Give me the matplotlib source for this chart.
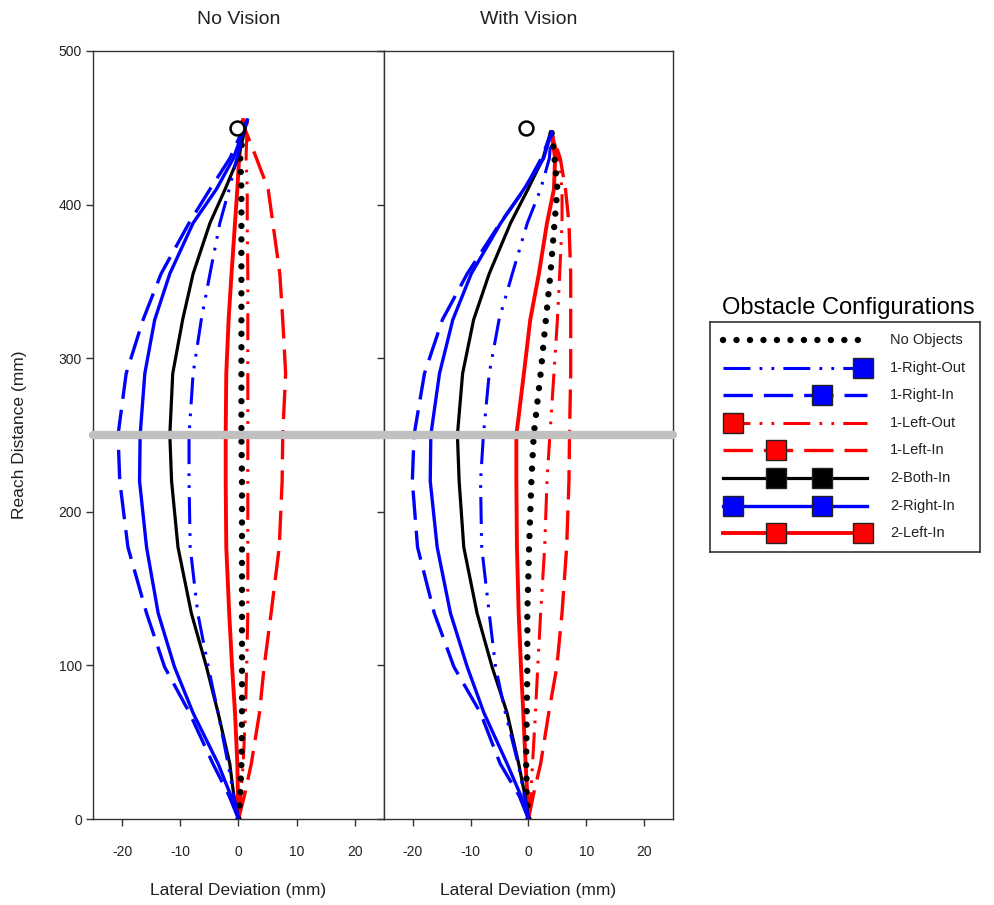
import numpy as np
import matplotlib.pyplot as plt

plt.rcParams['font.family'] = ['Liberation Sans', 'DejaVu Sans']
plt.rcParams['axes.unicode_minus'] = False

# reach distance levels (mm) at which lateral deviation was read
reach_nv = [0, 15, 36, 69, 99, 134, 177, 220, 250, 290, 325, 355, 388, 410, 430, 455]
reach_wv = [0, 15, 36, 69, 99, 134, 177, 220, 250, 290, 325, 355, 388, 410, 430, 447]

# lateral deviation (mm), No Vision
nv_no_objects = [0, 0.3, 0.5, 0.6, 0.6, 0.6, 0.6, 0.6, 0.5, 0.5, 0.5, 0.5, 0.5, 0.5, 0.3, 1.0]
nv_right_out = [0, -0.8, -1.8, -3.5, -5.2, -7.0, -8.3, -8.5, -8.5, -7.8, -6.4, -4.9, -3.2, -1.6, -0.3, 1.5]
nv_right_in = [0, -1.6, -4.4, -8.4, -12.7, -15.8, -19.0, -20.4, -20.7, -19.3, -16.4, -13.3, -8.5, -4.9, -1.5, 1.5]
nv_left_out = [0, 0.4, 0.8, 1.2, 1.4, 1.6, 1.6, 1.6, 1.6, 1.6, 1.6, 1.6, 1.5, 1.5, 1.3, 1.5]
nv_left_in = [0, 1.0, 2.2, 3.6, 4.4, 5.6, 7.0, 7.5, 7.6, 8.1, 7.6, 7.1, 5.9, 5.1, 3.1, 0.5]
nv_both_in = [0, -0.8, -1.5, -3.5, -5.5, -8.1, -10.4, -11.5, -11.8, -11.3, -9.6, -7.8, -4.9, -2.3, -0.1, 1.5]
nv_2right_in = [0, -1.3, -3.5, -7.8, -11.0, -13.8, -15.8, -17.0, -16.9, -16.1, -14.4, -11.8, -7.8, -3.8, -0.9, 1.5]
nv_2left_in = [0, -0.1, -0.2, -0.6, -1.1, -1.6, -2.1, -2.2, -2.2, -2.1, -1.7, -1.2, -0.6, -0.2, 0.1, 0.8]

# lateral deviation (mm), With Vision
wv_no_objects = [0, -0.3, -0.4, -0.3, -0.2, -0.2, 0.1, 0.5, 0.9, 2.1, 3.0, 3.8, 4.5, 5.0, 4.5, 4.0]
wv_right_out = [0, -0.7, -1.8, -4.0, -5.7, -6.8, -8.1, -8.3, -7.8, -6.8, -5.1, -2.8, -0.2, 2.1, 3.6, 4.0]
wv_right_in = [0, -1.6, -4.9, -8.3, -12.9, -16.3, -19.2, -20.1, -19.8, -18.0, -14.9, -10.6, -4.9, -0.7, 2.2, 4.0]
wv_left_out = [0, 0.4, 0.7, 1.2, 1.6, 2.1, 2.8, 3.2, 3.7, 4.4, 5.0, 5.4, 5.8, 5.8, 5.2, 4.0]
wv_left_in = [0, 0.8, 2.1, 3.5, 4.9, 5.8, 6.6, 7.0, 7.1, 7.3, 7.3, 7.3, 7.0, 6.4, 5.5, 4.0]
wv_both_in = [0, -0.6, -1.7, -3.7, -6.3, -8.9, -11.2, -12.0, -12.3, -11.4, -9.5, -6.8, -3.1, -0.1, 2.5, 3.8]
wv_2right_in = [0, -1.3, -3.7, -7.7, -10.6, -13.5, -15.8, -17.0, -16.9, -15.4, -13.1, -9.9, -4.8, -0.8, 2.6, 4.0]
wv_2left_in = [0, -0.2, -0.5, -0.9, -1.3, -1.7, -2.0, -2.1, -2.1, -0.8, 0.3, 1.8, 3.2, 4.4, 4.6, 4.0]

# target positions
target_x = [-0.2, -0.4]
target_y = [450, 450]
midline = 250

labels = ['No Objects', '1-Right-Out', '1-Right-In', '1-Left-Out', '1-Left-In',
          '2-Both-In', '2-Right-In', '2-Left-In']
nv_series = [nv_no_objects, nv_right_out, nv_right_in, nv_left_out, nv_left_in,
             nv_both_in, nv_2right_in, nv_2left_in]
wv_series = [wv_no_objects, wv_right_out, wv_right_in, wv_left_out, wv_left_in,
             wv_both_in, wv_2right_in, wv_2left_in]

# obstacle icon slots in the legend (pixels from legend box left)
obstacle_slots = [[], [153], [112], [23], [66], [66, 112], [23, 112], [66, 153]]

dash_dot_dot = (0, (8.8, 3, 0.9, 3, 0.9, 3))
dashed = (0, (8.8, 3.3))
styles = [
    dict(color='black', lw=4.6, ls=(0, (0.01, 2.1)), dash_capstyle='round'),
    dict(color='#0000ff', lw=2.2, ls=dash_dot_dot),
    dict(color='#0000ff', lw=2.4, ls=dashed),
    dict(color='#ff0000', lw=2.2, ls=dash_dot_dot),
    dict(color='#ff0000', lw=2.4, ls=dashed),
    dict(color='black', lw=2.3, ls='-'),
    dict(color='#0000ff', lw=2.4, ls='-'),
    dict(color='#ff0000', lw=2.8, ls='-'),
]
square_colors = ['', '#0000ff', '#0000ff', '#ff0000', '#ff0000', 'black', '#0000ff', '#ff0000']
draw_order = [3, 4, 7, 0, 5, 1, 2, 6]

fig = plt.figure(figsize=(9.95, 9.05), dpi=100)
ax1 = fig.add_axes([93 / 995, 1 - 819 / 905, 291 / 995, 768 / 905])
ax2 = fig.add_axes([384 / 995, 1 - 819 / 905, 289 / 995, 768 / 905])

for k, (ax, reach, series) in enumerate([(ax1, reach_nv, nv_series), (ax2, reach_wv, wv_series)]):
    for i in draw_order:
        ax.plot(series[i], reach, zorder=3, **styles[i])
    ax.plot(target_x[k], target_y[k], 'o', ms=10, mfc='white', mec='black', mew=1.8, zorder=4)
    ax.axhline(midline, color='#c0c0c0', lw=6, solid_capstyle='round', clip_on=False, zorder=6)
    ax.set_xlim(-25, 25)
    ax.set_ylim(0, 500)
    ax.set_xticks([-20, -10, 0, 10, 20])
    ax.set_yticks([0, 100, 200, 300, 400, 500])
    ax.tick_params(direction='out', length=5, width=1, color='#333333',
                   labelsize=10, labelcolor='#222222')
    ax.tick_params(axis='x', pad=14)
    ax.tick_params(axis='y', pad=3)
    for s in ax.spines.values():
        s.set_color('#333333')
        s.set_linewidth(1)

ax2.set_yticklabels([])

fig.text((93 + 384) / 2 / 995, 1 - 19 / 905, 'No Vision', ha='center', va='center',
         fontsize=14, color='#222222')
fig.text((384 + 673) / 2 / 995, 1 - 19 / 905, 'With Vision', ha='center', va='center',
         fontsize=14, color='#222222')
fig.text((93 + 384) / 2 / 995, 1 - 890 / 905, 'Lateral Deviation (mm)', ha='center',
         va='center', fontsize=12.5, color='#222222')
fig.text((384 + 673) / 2 / 995, 1 - 890 / 905, 'Lateral Deviation (mm)', ha='center',
         va='center', fontsize=12.5, color='#222222')
fig.text(20 / 995, 1 - 435 / 905, 'Reach Distance (mm)', ha='center', va='center',
         rotation=90, fontsize=12.5, color='#222222')

# legend box
fig.text(848 / 995, 1 - 308 / 905, 'Obstacle Configurations', ha='center', va='center',
         fontsize=17, color='black')
lg = fig.add_axes([710 / 995, 1 - 552 / 905, 270 / 995, 230 / 905])
lg.set_xlim(0, 270)
lg.set_ylim(230, 0)
lg.set_xticks([])
lg.set_yticks([])
for s in lg.spines.values():
    s.set_color('#333333')
    s.set_linewidth(1.2)
for i, lab in enumerate(labels):
    yy = 18 + 27.6 * i
    lg.plot([13, 157], [yy, yy], **styles[i])
    for sx in obstacle_slots[i]:
        lg.plot(sx, yy, 's', ms=14, mfc=square_colors[i], mec='#222222', mew=1)
    lg.text(180, yy, lab, va='center', ha='left', fontsize=10.5, color='#222222')

fig.savefig('out.png', dpi=100)
